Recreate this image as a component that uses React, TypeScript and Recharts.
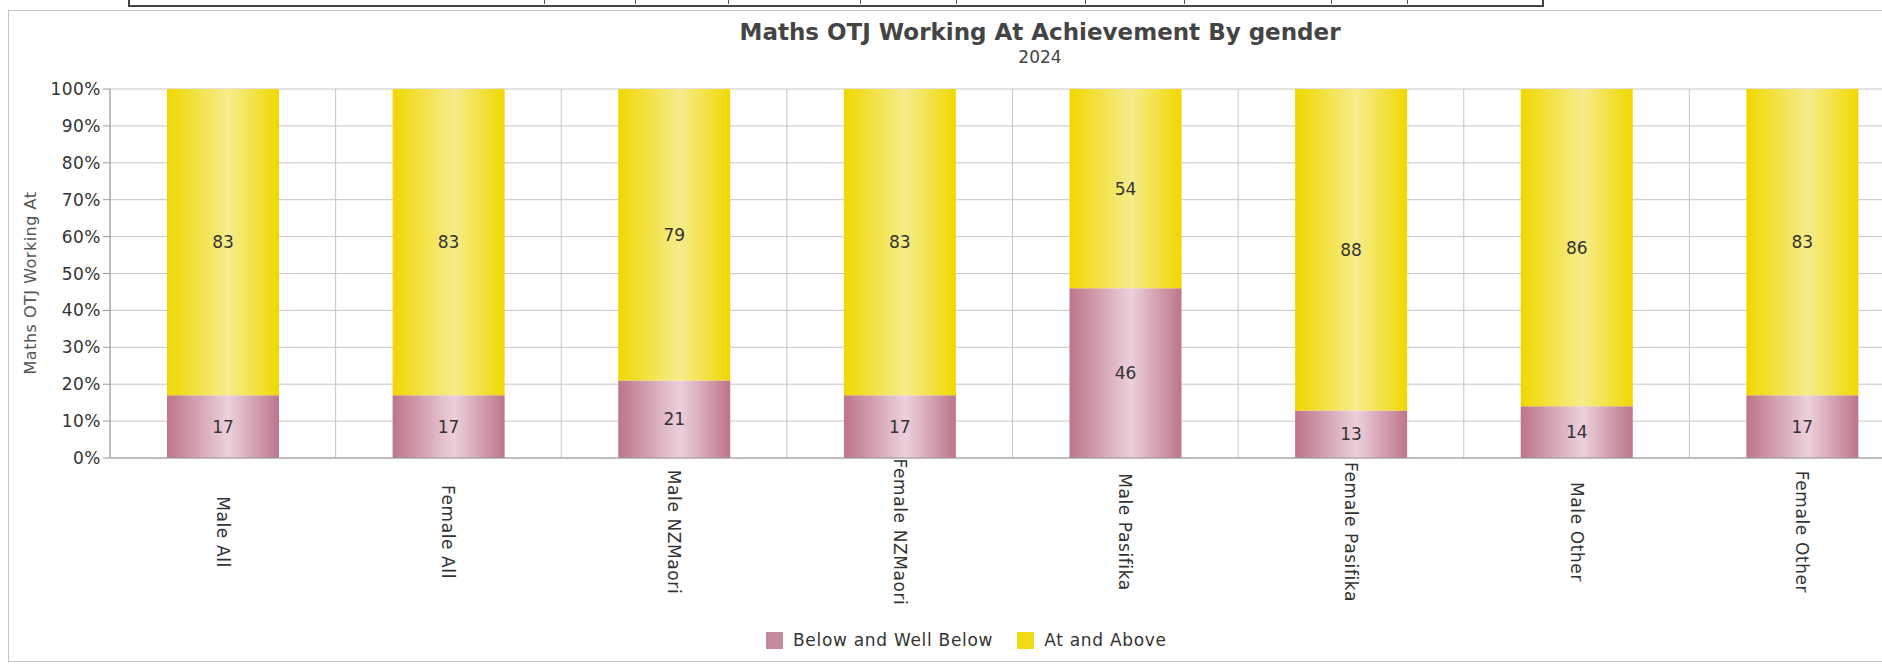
import React from 'react';
import { BarChart, Bar, XAxis, YAxis, CartesianGrid, Legend, LabelList } from 'recharts';

const categories = [
  'Male All',
  'Female All',
  'Male NZMaori',
  'Female NZMaori',
  'Male Pasifika',
  'Female Pasifika',
  'Male Other',
  'Female Other',
];
const belowValues = [17, 17, 21, 17, 46, 13, 14, 17];
const aboveValues = [83, 83, 79, 83, 54, 88, 86, 83];
const yTicks = [0, 0.1, 0.2, 0.3, 0.4, 0.5, 0.6, 0.7, 0.8, 0.9, 1];

const series = [
  { key: 'below', name: 'Below and Well Below', fill: 'url(#gradBelow)', swatch: '#c4899b' },
  { key: 'above', name: 'At and Above', fill: 'url(#gradAbove)', swatch: '#efdc14' },
];

// dividers of the table cut off at the top of the scan
const tableDividers = [544, 635, 728, 860, 956, 1085, 1184, 1331, 1407];

const data = categories.map((name, i) => ({
  name,
  below: belowValues[i],
  above: aboveValues[i],
}));

const FONT = '"DejaVu Sans", Verdana, sans-serif';

function XTick({ x, y, payload }: any) {
  return (
    <text
      x={0}
      y={0}
      transform={`translate(${x}, ${y + 66}) rotate(90)`}
      textAnchor="middle"
      dominantBaseline="central"
      fontSize={17}
      letterSpacing={0.6}
      fill="#333"
      fontFamily={FONT}
    >
      {payload.value}
    </text>
  );
}

function LegendBox() {
  return (
    <div
      style={{
        display: 'flex',
        alignItems: 'center',
        fontFamily: FONT,
        fontSize: 17,
        letterSpacing: 0.7,
        color: '#333',
      }}
    >
      {series.map((s) => (
        <div key={s.key} style={{ display: 'flex', alignItems: 'center', marginRight: 24 }}>
          <span style={{ width: 17, height: 17, background: s.swatch, display: 'inline-block', marginRight: 10 }} />
          <span>{s.name}</span>
        </div>
      ))}
    </div>
  );
}

export default function App() {
  return (
    <div
      style={{
        position: 'fixed',
        left: 0,
        top: 0,
        width: 1882,
        height: 664,
        overflow: 'hidden',
        background: '#fff',
        fontFamily: FONT,
      }}
    >
      {/* bottom of the table above the chart */}
      <div
        style={{
          position: 'absolute',
          left: 128,
          top: -20,
          width: 1412,
          height: 23,
          border: '2px solid #444',
        }}
      />
      {tableDividers.map((x) => (
        <div key={x} style={{ position: 'absolute', left: x, top: 0, width: 1, height: 4, background: '#555' }} />
      ))}
      {/* chart frame */}
      <div
        style={{
          position: 'absolute',
          left: 8,
          top: 10,
          width: 1920,
          height: 650,
          border: '1px solid #c4c4c4',
        }}
      />
      <div
        style={{
          position: 'absolute',
          left: 1040,
          top: 32,
          transform: 'translate(-50%, -50%)',
          fontWeight: 'bold',
          fontSize: 23,
          color: '#444',
          whiteSpace: 'nowrap',
        }}
      >
        Maths OTJ Working At Achievement By gender
      </div>
      <div
        style={{
          position: 'absolute',
          left: 1040,
          top: 57,
          transform: 'translate(-50%, -50%)',
          fontSize: 17,
          color: '#444',
        }}
      >
        2024
      </div>
      <div
        style={{
          position: 'absolute',
          left: 30,
          top: 283,
          transform: 'translate(-50%, -50%) rotate(-90deg)',
          fontSize: 16,
          letterSpacing: 0.5,
          color: '#555',
          whiteSpace: 'nowrap',
        }}
      >
        Maths OTJ Working At
      </div>
      <div style={{ position: 'absolute', left: 0, top: 0 }}>
        <BarChart
          width={1940}
          height={664}
          data={data}
          stackOffset="expand"
          margin={{ top: 89, right: 25, bottom: 56, left: 0 }}
        >
          <defs>
            <linearGradient id="gradBelow" x1="0" y1="0" x2="1" y2="0">
              <stop offset="0%" stopColor="#bd7589" />
              <stop offset="55%" stopColor="#ecd0dc" />
              <stop offset="100%" stopColor="#bd7589" />
            </linearGradient>
            <linearGradient id="gradAbove" x1="0" y1="0" x2="1" y2="0">
              <stop offset="0%" stopColor="#f0d800" />
              <stop offset="55%" stopColor="#f6ec8c" />
              <stop offset="100%" stopColor="#f0d800" />
            </linearGradient>
          </defs>
          <CartesianGrid
            stroke="#c6c6c6"
            verticalCoordinatesGenerator={({ offset }: any) =>
              [...categories, ''].map((_, i) => offset.left + (offset.width * i) / categories.length)
            }
          />
          <XAxis
            dataKey="name"
            height={150}
            interval={0}
            axisLine={{ stroke: '#999' }}
            tickLine={false}
            tick={<XTick />}
          />
          <YAxis
            width={110}
            domain={[0, 1]}
            ticks={yTicks}
            tickFormatter={(v) => `${Math.round(v * 100)}%`}
            axisLine={{ stroke: '#999' }}
            tickLine={{ stroke: '#999' }}
            tickSize={7}
            tick={{ fill: '#333', fontSize: 17, letterSpacing: 0.5, fontFamily: FONT }}
          />
          <Legend
            verticalAlign="middle"
            content={<LegendBox />}
            wrapperStyle={{ left: 766, top: 630, width: 'auto', height: 22 }}
          />
          {series.map((s) => (
            <Bar
              key={s.key}
              dataKey={s.key}
              name={s.name}
              stackId="a"
              fill={s.fill}
              barSize={112}
              isAnimationActive={false}
            >
              <LabelList dataKey={s.key} position="center" fill="#333" fontSize={17} fontFamily={FONT} />
            </Bar>
          ))}
        </BarChart>
      </div>
    </div>
  );
}
